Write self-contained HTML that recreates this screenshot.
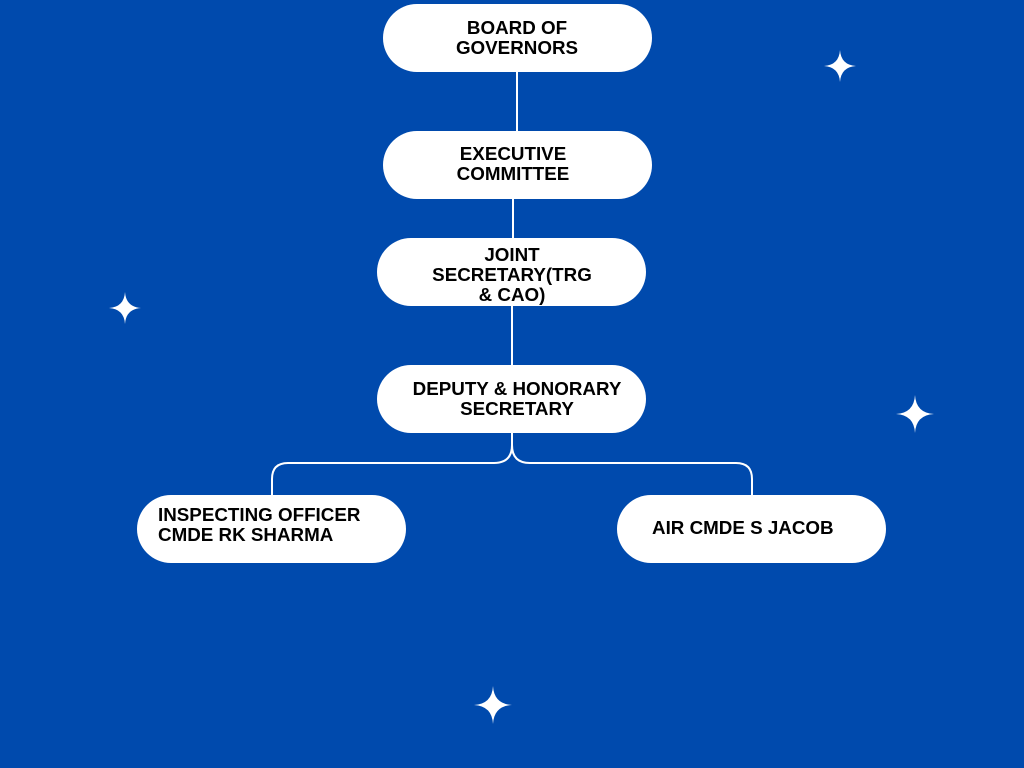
<!DOCTYPE html>
<html><head><meta charset="utf-8"><style>
body{margin:0;width:1024px;height:768px;background:#004aad;overflow:hidden}
svg{display:block}
text{font-family:"Liberation Sans",sans-serif;font-weight:bold;font-size:18.8px;fill:#000}
</style></head><body>
<svg width="1024" height="768" viewBox="0 0 1024 768">
<g stroke="#fff" stroke-width="2" fill="none">
<line x1="517" y1="72" x2="517" y2="131"/>
<line x1="513" y1="199" x2="513" y2="238"/>
<line x1="512" y1="306" x2="512" y2="365"/>
<path d="M512 433 V445 Q512 463 494 463 H288 Q272 463 272 479 V495"/>
<path d="M512 433 V445 Q512 463 530 463 H736 Q752 463 752 479 V495"/>
</g>
<g fill="#fff">
<rect x="383" y="4" width="269" height="68" rx="34"/>
<rect x="383" y="131" width="269" height="68" rx="34"/>
<rect x="377" y="238" width="269" height="68" rx="34"/>
<rect x="377" y="365" width="269" height="68" rx="34"/>
<rect x="137" y="495" width="269" height="68" rx="34"/>
<rect x="617" y="495" width="269" height="68" rx="34"/>
</g>
<g text-anchor="middle">
<text x="517" y="34">BOARD OF</text>
<text x="517" y="54">GOVERNORS</text>
<text x="513" y="160">EXECUTIVE</text>
<text x="513" y="180">COMMITTEE</text>
<text x="512" y="261">JOINT</text>
<text x="512" y="281">SECRETARY(TRG</text>
<text x="512" y="301">&amp; CAO)</text>
<text x="517" y="395">DEPUTY &amp; HONORARY</text>
<text x="517" y="415">SECRETARY</text>
</g>
<text x="158" y="521">INSPECTING OFFICER</text>
<text x="158" y="541">CMDE RK SHARMA</text>
<text x="652" y="534">AIR CMDE S JACOB</text>
<g fill="#fff">
<path d="M840 50 Q841 65 856 66 Q841 67 840 82 Q839 67 824 66 Q839 65 840 50Z"/>
<path d="M125 292 Q126 307 141 308 Q126 309 125 324 Q124 309 109 308 Q124 307 125 292Z"/>
<path d="M915 395 Q916 413 934 414 Q916 415 915 433 Q914 415 896 414 Q914 413 915 395Z"/>
<path d="M493 686 Q494 704 512 705 Q494 706 493 724 Q492 706 474 705 Q492 704 493 686Z"/>
</g>
</svg>
</body></html>
